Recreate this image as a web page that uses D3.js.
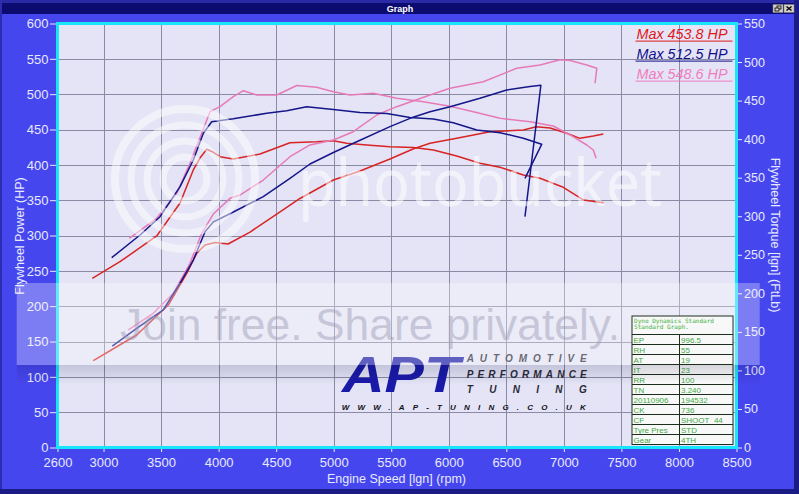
<!DOCTYPE html>
<html><head><meta charset="utf-8">
<script src="https://cdn.jsdelivr.net/npm/d3@7"></script>
<style>html,body{margin:0;padding:0;background:#4646ee;overflow:hidden}svg{display:block}</style>
</head><body><svg id="c" width="799" height="494"></svg>
<script>
// ---------- data ----------
const xTicks = [2600,3000,3500,4000,4500,5000,5500,6000,6500,7000,7500,8000,8500];
const hpTicks = [0,50,100,150,200,250,300,350,400,450,500,550,600];
const tqTicks = [0,50,100,150,200,250,300,350,400,450,500,550];
const legendLabels = ["Max 453.8 HP","Max 512.5 HP","Max 548.6 HP"];

// power curves [rpm, HP]
const redPower = [[2911,122.8],[3288,159.2],[3563,201.6],[3723,246.5],[3810,274.8],[3882,286.6],[3969,290.1],[4082,288.0],[4273,304.9],[4505,330.4],[4707,352.4],[4997,378.5],[5229,391.3],[5489,408.2],[5689,422.4],[5837,430.5],[6069,437.5],[6358,446.9],[6648,449.3],[6760,453.8],[6880,452.0],[7025,444.6],[7140,437.5],[7256,440.8],[7343,443.6]];
const bluePower = [[3076,143.6],[3288,168.7],[3519,194.6],[3664,232.4],[3780,265.3],[3882,305.4],[3954,319.1],[4128,333.3],[4388,354.9],[4620,380.9],[4794,401.2],[4997,417.5],[5200,432.7],[5489,454.0],[5663,465.8],[5837,475.2],[6011,482.3],[6271,494.1],[6503,505.9],[6706,510.8],[6800,512.5],[6662,326.6]];
const pinkPower = [[3215,166.3],[3432,189.9],[3606,218.2],[3751,260.7],[3853,303.1],[3954,330.4],[4099,352.6],[4186,357.3],[4388,378.5],[4620,411.5],[4794,428.1],[4997,435.1],[5170,446.9],[5374,470.5],[5547,482.3],[5837,498.8],[6011,508.3],[6300,517.6],[6590,536.6],[6793,541.3],[6967,548.6],[7054,547.5],[7199,541.3],[7286,536.6],[7271,515.4]];

// torque curves [rpm, ft-lb]
const redTorque = [[2902,219.5],[3143,241.0],[3462,274.4],[3665,317.2],[3780,360.0],[3838,375.5],[3897,386.8],[3951,383.3],[4012,377.2],[4128,374.2],[4360,380.7],[4620,395.4],[4852,396.7],[4997,398.0],[5113,394.6],[5287,392.4],[5489,390.2],[5692,389.2],[5866,385.9],[6069,378.1],[6271,368.7],[6445,363.5],[6648,353.5],[6793,349.2],[6995,337.5],[7169,321.1],[7343,317.6]];
const blueTorque = [[3071,246.2],[3317,275.6],[3491,299.4],[3665,338.3],[3780,372.9],[3867,407.6],[3940,422.6],[4128,426.5],[4418,433.5],[4592,436.9],[4765,442.1],[4997,438.4],[5229,434.6],[5461,433.3],[5663,428.1],[5866,426.1],[6039,421.3],[6243,411.9],[6445,408.4],[6648,401.1],[6807,393.3],[6662,349.2]];
const pinkTorque = [[3224,271.4],[3462,297.3],[3636,329.7],[3751,368.6],[3853,407.6],[3925,435.6],[4012,442.1],[4128,455.1],[4215,462.8],[4331,457.3],[4505,457.3],[4679,469.6],[4852,467.2],[4997,461.5],[5142,457.3],[5344,459.5],[5547,453.0],[5779,448.6],[6011,442.6],[6213,435.6],[6445,427.0],[6706,422.6],[6908,417.0],[7054,405.4],[7199,392.4],[7256,385.9],[7280,375.1]];

const tableHeader = ["Dyno Dynamics Standard","Standard Graph."];
const tableRows = [["EP","996.5"],["RH","55"],["AT","19"],["IT","23"],["RR","100"],["TN","3.240"],["20110906","194532"],["CK","736"],["CF","SHOOT_44"],["Tyre Pres","STD"],["Gear","4TH"]];

// ---------- layout ----------
const W = 799, H = 494;
const L = 57.5, R = 736.5, T = 23.5, B = 447.5;
const FONT = "'Liberation Sans', Arial, sans-serif";
const LABEL = "#e6eaff";
const colors = {red:"#d82424", blue:"#16168a", pink:"#e67ab8"};
const legendColors = ["#e01818","#10108c","#f07cc0"];

const svg = d3.select("#c");
const x = d3.scaleLinear().domain([2600,8500]).range([L,R]);
const yHp = d3.scaleLinear().domain([0,600]).range([B,T]);
const yTq = d3.scaleLinear().domain([0,550]).range([B,T]);

// window frame
svg.append("rect").attr("width",W).attr("height",H).attr("fill","#4646ee");
svg.append("rect").attr("x",0).attr("y",0).attr("width",W).attr("height",3).attr("fill","#2a2aa6");
svg.append("rect").attr("x",0).attr("y",0).attr("width",2).attr("height",H).attr("fill","#2c2cb0");
svg.append("rect").attr("x",794).attr("y",0).attr("width",5).attr("height",H).attr("fill","#1c1c86");
svg.append("rect").attr("x",0).attr("y",489).attr("width",W).attr("height",5).attr("fill","#1c1c86");
svg.append("rect").attr("x",2).attr("y",3).attr("width",792).attr("height",11).attr("fill","#0c0c70");
svg.append("text").attr("x",400).attr("y",11.5).attr("text-anchor","middle")
  .attr("font-family",FONT).attr("font-size",9).attr("font-weight","bold").attr("fill","#ffffff").text("Graph");
// buttons
[[773,"r"],[784,"x"]].forEach(([bx,k])=>{
  svg.append("rect").attr("x",bx).attr("y",4.5).attr("width",10).attr("height",8).attr("fill","#d4d0c8").attr("stroke","#808080").attr("stroke-width",0.5);
  if(k==="x"){
    svg.append("path").attr("d",`M${bx+2.5},6.5L${bx+7.5},10.5M${bx+7.5},6.5L${bx+2.5},10.5`).attr("stroke","#000").attr("stroke-width",1.4);
  } else {
    svg.append("rect").attr("x",bx+4).attr("y",6).attr("width",4).attr("height",3).attr("fill","none").attr("stroke","#000").attr("stroke-width",0.8);
    svg.append("rect").attr("x",bx+2).attr("y",8).attr("width",4).attr("height",3).attr("fill","#d4d0c8").attr("stroke","#000").attr("stroke-width",0.8);
  }
});

// plot background
svg.append("rect").attr("x",L).attr("y",T).attr("width",R-L).attr("height",B-T).attr("fill","#e4e4f6");

// grid
const grid = svg.append("g").attr("stroke","#8a8aa4").attr("stroke-width",1);
xTicks.filter(v=>v>2600 && v<8500).forEach(v=>{
  grid.append("line").attr("x1",Math.round(x(v))+0.5).attr("x2",Math.round(x(v))+0.5).attr("y1",T).attr("y2",B);
});
hpTicks.filter(v=>v>0 && v<600).forEach(v=>{
  grid.append("line").attr("y1",Math.round(yHp(v))+0.5).attr("y2",Math.round(yHp(v))+0.5).attr("x1",L).attr("x2",R);
});

// curves
const lineHp = d3.line().x(d=>x(d[0])).y(d=>yHp(d[1]));
const lineTq = d3.line().x(d=>x(d[0])).y(d=>yTq(d[1]));
const curves = svg.append("g").attr("fill","none").attr("stroke-width",1.5).attr("stroke-linejoin","round");
[[redTorque,colors.red,lineTq],[redPower,colors.red,lineHp],
 [pinkTorque,colors.pink,lineTq],[pinkPower,colors.pink,lineHp],
 [blueTorque,colors.blue,lineTq],[bluePower,colors.blue,lineHp]].forEach(([d,c,fn])=>{
  curves.append("path").attr("d",fn(d)).attr("stroke",c);
});

// legend
legendLabels.forEach((t,i)=>{
  const by = 39.3 + i*20;
  svg.append("text").attr("x",636.5).attr("y",by).attr("font-family",FONT).attr("font-size",14)
    .attr("font-style","italic").attr("fill",legendColors[i]).attr("textLength",91).attr("lengthAdjust","spacingAndGlyphs").text(t);
  svg.append("line").attr("x1",635.5).attr("x2",732.5).attr("y1",by+1.8).attr("y2",by+1.8)
    .attr("stroke",legendColors[i]).attr("stroke-width",1);
});

// APT logo
const logo = svg.append("g").attr("font-family",FONT).attr("font-style","italic").attr("font-weight","bold");
logo.append("text").attr("x",342).attr("y",392).attr("font-size",50).attr("fill","#1a1aa8")
  .attr("textLength",118).attr("lengthAdjust","spacingAndGlyphs").text("APT");
[["AUTOMOTIVE",362.3],["PERFORMANCE",377.7],["TUNING",392.7]].forEach(([t,by])=>{
  logo.append("text").attr("x",466.7).attr("y",by).attr("font-size",10).attr("fill","#2a2a36")
    .attr("textLength",120).attr("lengthAdjust","spacing").text(t);
});
logo.append("text").attr("x",341.7).attr("y",410).attr("font-size",8).attr("fill","#101018")
  .attr("textLength",244).attr("lengthAdjust","spacing").text("WWW.AP-TUNING.CO.UK");

// cyan plot border
svg.append("rect").attr("x",L).attr("y",T).attr("width",R-L).attr("height",B-T)
  .attr("fill","none").attr("stroke","#18e4fa").attr("stroke-width",3);

// axes
function styleAxis(size){
  return g=>{
    g.select(".domain").remove();
    g.selectAll("line").attr("stroke",LABEL);
    g.selectAll("text").attr("fill",LABEL).attr("font-family",FONT).attr("font-size",size);
  };
}
svg.append("g").attr("transform",`translate(${L-1.5},0)`)
  .call(d3.axisLeft(yHp).tickValues(hpTicks).tickSize(6).tickPadding(1.5).tickFormat(d3.format("d"))).call(styleAxis(13));
svg.append("g").attr("transform",`translate(${R+1.5},0)`)
  .call(d3.axisRight(yTq).tickValues(tqTicks).tickSize(4).tickPadding(2).tickFormat(d3.format("d"))).call(styleAxis(12.5));
svg.append("g").attr("transform",`translate(0,${B+1.5})`)
  .call(d3.axisBottom(x).tickValues(xTicks).tickSize(3).tickPadding(5.5).tickFormat(d3.format("d"))).call(styleAxis(13));

// axis titles
svg.append("text").attr("transform","translate(24,236) rotate(-90)").attr("text-anchor","middle")
  .attr("font-family",FONT).attr("font-size",12.5).attr("fill",LABEL).text("Flywheel Power (HP)");
svg.append("text").attr("transform","translate(771,235) rotate(90)").attr("text-anchor","middle")
  .attr("font-family",FONT).attr("font-size",12.5).attr("fill",LABEL).text("Flywheel Torque [lgn] (FtLb)");
svg.append("text").attr("x",396.5).attr("y",482.5).attr("text-anchor","middle")
  .attr("font-family",FONT).attr("font-size",12.5).attr("fill",LABEL).text("Engine Speed [lgn] (rpm)");

// watermark overlay
const ov = svg.append("g").attr("pointer-events","none");
const rings = ov.append("g").attr("fill","none").attr("stroke","#ffffff").attr("opacity",0.5);
[[70,8],[54,7],[38,7],[22,7]].forEach(([r,w])=>{
  rings.append("circle").attr("cx",185).attr("cy",179).attr("r",r).attr("stroke-width",w);
});
ov.append("text").attr("x",298).attr("y",206).attr("font-family","'Noto Sans', sans-serif").attr("font-size",66)
  .attr("fill","#ffffff").attr("opacity",0.55).attr("textLength",364).attr("lengthAdjust","spacingAndGlyphs").text("photobucket");
const grad = svg.append("defs").append("linearGradient").attr("id","sh").attr("x1",0).attr("x2",0).attr("y1",0).attr("y2",1);
grad.append("stop").attr("offset","0%").attr("stop-color","#000030").attr("stop-opacity",0.14);
grad.append("stop").attr("offset","100%").attr("stop-color","#000030").attr("stop-opacity",0);
ov.append("rect").attr("x",16.7).attr("y",283).attr("width",743).attr("height",82).attr("fill","#ffffff").attr("opacity",0.3);
ov.append("rect").attr("x",16.7).attr("y",365).attr("width",743).attr("height",20).attr("fill","url(#sh)");
ov.append("text").attr("x",120).attr("y",340).attr("font-family",FONT).attr("font-size",44)
  .attr("fill","#9a9ab2").attr("opacity",0.45).attr("textLength",500).attr("lengthAdjust","spacingAndGlyphs").text("Join free. Share privately.");

// data table (drawn over the watermark band)
const tx0 = 632, tx1 = 733, tmid = 679.5, ty0 = 316, thead = 18.5, trow = 10;
const tb = svg.append("g");
tb.append("rect").attr("x",tx0).attr("y",ty0).attr("width",tx1-tx0).attr("height",thead+trow*tableRows.length)
  .attr("fill","#f8f8f8").attr("stroke","#1e2e1e").attr("stroke-width",1);
tableHeader.forEach((t,i)=>{
  tb.append("text").attr("x",tx0+2).attr("y",ty0+7+i*6).attr("font-family","'DejaVu Sans Mono', monospace")
    .attr("font-size",6).attr("fill","#40b040").attr("textLength", i===0?80:55).attr("lengthAdjust","spacingAndGlyphs").text(t);
});
tableRows.forEach((r,i)=>{
  const ry = ty0+thead+i*trow;
  tb.append("line").attr("x1",tx0).attr("x2",tx1).attr("y1",ry).attr("y2",ry).attr("stroke","#1e2e1e").attr("stroke-width",1);
  tb.append("text").attr("x",tx0+1.5).attr("y",ry+8).attr("font-family","'Liberation Sans Narrow','Liberation Sans',sans-serif")
    .attr("font-size",8).attr("fill","#44aa44").text(r[0]);
  tb.append("text").attr("x",tmid+1.5).attr("y",ry+8).attr("font-family","'Liberation Sans Narrow','Liberation Sans',sans-serif")
    .attr("font-size",8).attr("fill","#44aa44").text(r[1]);
});
tb.append("line").attr("x1",tmid).attr("x2",tmid).attr("y1",ty0+thead).attr("y2",ty0+thead+trow*tableRows.length)
  .attr("stroke","#1e2e1e").attr("stroke-width",1);
// band shadow also darkens table rows slightly, as in the reference
tb.append("rect").attr("x",tx0).attr("y",365).attr("width",tx1-tx0).attr("height",18).attr("fill","url(#sh)");
</script></body></html>
